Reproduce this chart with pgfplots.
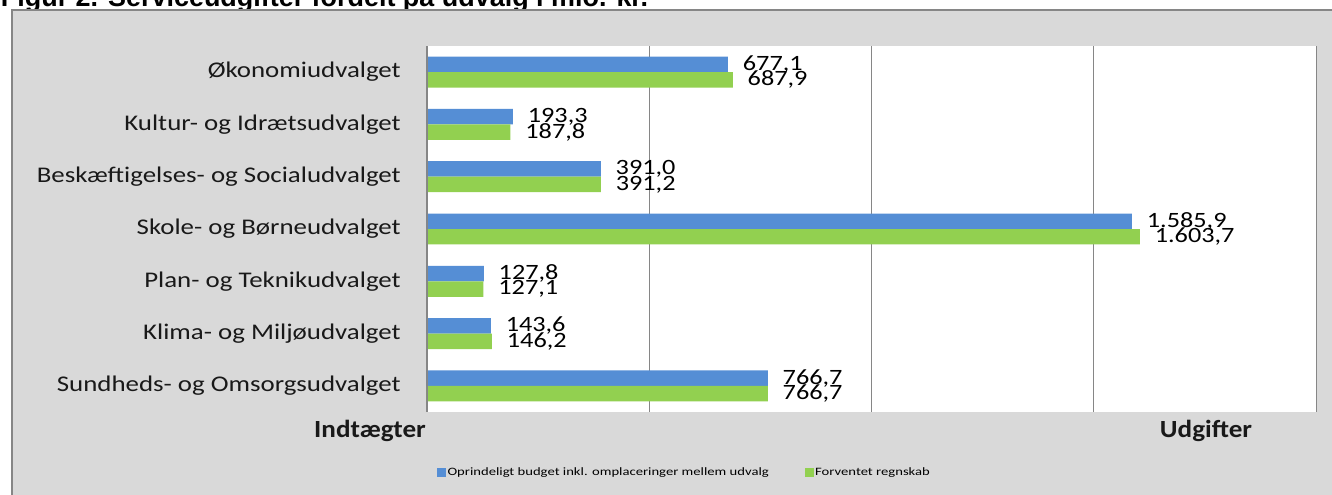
\documentclass[border=0pt]{standalone}
\usepackage{pgfplots}
\pgfplotsset{compat=1.18}
\usepackage{pgfplotstable}
\usepackage{fontspec}
\setmainfont{Carlito}
\newfontfamily\catfont[FakeStretch=1.2]{Carlito}
\newfontfamily\legfont[FakeStretch=1.3]{Carlito}
\newfontfamily\axfont[FakeStretch=1.1]{Carlito}
\newfontfamily\titlefont{Liberation Sans}
\definecolor{barblue}{HTML}{558ED5}
\definecolor{bargreen}{HTML}{92D050}
\definecolor{framegray}{HTML}{D9D9D9}
\definecolor{linegray}{HTML}{868686}

\pgfplotstableread{
pos budget regnskab
0 677.1 687.9
1 193.3 187.8
2 391.0 391.2
3 1585.9 1603.7
4 127.8 127.1
5 143.6 146.2
6 766.7 766.7
}\datatable

\begin{document}
\begin{tikzpicture}
\useasboundingbox (0,0) rectangle (999pt,371.25pt);
\clip (0,0) rectangle (999pt,371.25pt);
\fill[white] (0,0) rectangle (999pt,371.25pt);
\node[anchor=base west, inner sep=0pt, font=\titlefont\bfseries\fontsize{20.2pt}{22pt}\selectfont] at (0.5pt,366.2pt) {Figur 2. Serviceudgifter fordelt på udvalg i mio. kr.};
\filldraw[fill=framegray, draw=linegray, line width=1.5pt] (9pt,-10pt) rectangle (1010pt,363.75pt);
\begin{axis}[
  at={(320.25pt,62.25pt)}, anchor=south west,
  scale only axis, width=666.75pt, height=274.5pt,
  xbar=0pt, bar width=11.6pt,
  xmin=0, xmax=2000, ymin=-0.5, ymax=6.5, y dir=reverse,
  xtick={0,500,1000,1500,2000}, xticklabels={},
  xmajorgrids, grid style={linegray, line width=0.75pt},
  major tick length=0pt,
  axis line style={draw=none},
  axis background/.style={fill=white},
  ytick={0,...,6},
  yticklabels={Økonomiudvalget, Kultur- og Idrætsudvalget, Beskæftigelses- og Socialudvalget, Skole- og Børneudvalget, Plan- og Teknikudvalget, Klima- og Miljøudvalget, Sundheds- og Omsorgsudvalget},
  yticklabel style={font=\catfont\fontsize{16.8pt}{18pt}\selectfont, inner sep=0pt, xshift=-19.5pt, text=black!90},
  point meta=x,
  nodes near coords={\pgfmathprintnumber[fixed, fixed zerofill, precision=1, use comma, 1000 sep={.}, assume math mode=true]{\pgfplotspointmeta}},
  nodes near coords style={font=\catfont\fontsize{16.4pt}{18pt}\selectfont, anchor=west, inner sep=0pt, xshift=11pt, text=black},
  legend style={at={(0.0112,-0.165)}, anchor=west, draw=none, fill=none, legend columns=2,
    font=\legfont\fontsize{8.45pt}{9pt}\selectfont,
    /tikz/every even column/.append style={column sep=26pt}, inner sep=0pt, nodes={inner sep=1pt}},
  legend image code/.code={\fill[#1, draw=none] (0pt,-3.4pt) rectangle (6.75pt,3.4pt);},
]
\addplot[fill=barblue, draw=none, bar shift=5.8pt] table[x=budget, y=pos] {\datatable};
\addplot[fill=bargreen, draw=none, bar shift=-5.8pt] table[x=regnskab, y=pos] {\datatable};
\legend{Oprindeligt budget inkl. omplaceringer mellem udvalg, Forventet regnskab}
\draw[linegray, line width=1.5pt] (rel axis cs:0,0) -- (rel axis cs:0,1);
\end{axis}
\node[anchor=base, inner sep=0pt, text=black!90, font=\axfont\bfseries\fontsize{18.5pt}{20pt}\selectfont] at (277.5pt,42.75pt) {Indtægter};
\node[anchor=base, inner sep=0pt, text=black!90, font=\axfont\bfseries\fontsize{18.5pt}{20pt}\selectfont] at (904.5pt,42.75pt) {Udgifter};
\end{tikzpicture}
\end{document}
